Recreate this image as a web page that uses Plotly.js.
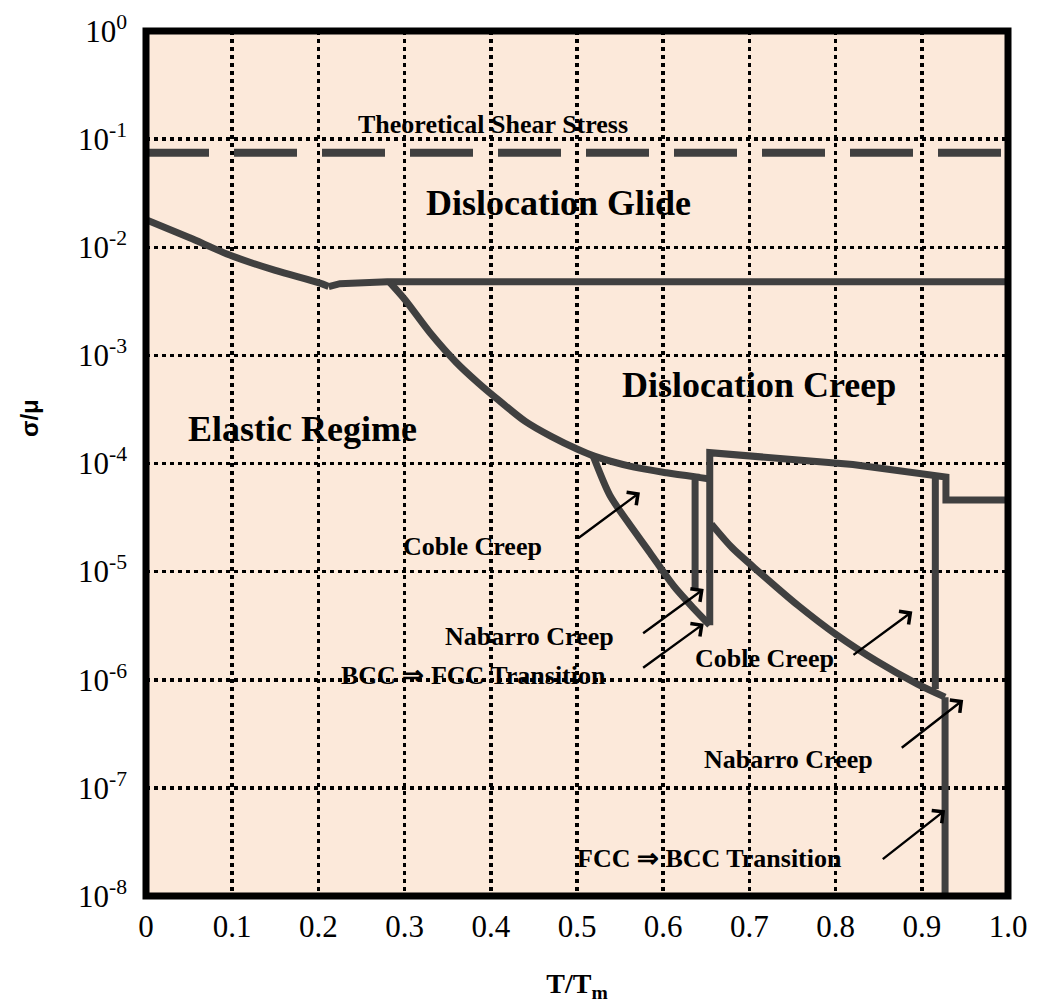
<!DOCTYPE html>
<html>
<head>
<meta charset="utf-8">
<script src="https://cdn.plot.ly/plotly-3.0.1.min.js"></script>
<style>
  html, body { margin: 0; padding: 0; background: #ffffff; }
  #chart { width: 1042px; height: 1003px; }
</style>
</head>
<body>
<div id="chart"></div>
<script>
// Deformation-mechanism map: homologous temperature T/Tm against normalised stress σ/μ

// Theoretical shear stress (dashed)
const theoryT = [0, 1.0];
const theoryStress = [7.5e-2, 7.5e-2];

// Elastic / dislocation-glide boundary at low temperature
const elasticGlideT = [0, 0.05, 0.1, 0.15, 0.2, 0.212];
const elasticGlideStress = [1.8e-2, 1.23e-2, 8.3e-3, 6.1e-3, 4.7e-3, 4.33e-3];

// Upper limit of dislocation creep (glide boundary)
const glideT = [0.212, 0.225, 0.28, 1.0];
const glideStress = [4.33e-3, 4.6e-3, 4.8e-3, 4.8e-3];

// Elastic / dislocation creep boundary (BCC)
const creepBccT = [0.283, 0.30, 0.33, 0.36, 0.385, 0.41, 0.44, 0.47, 0.50, 0.52, 0.565, 0.604, 0.643, 0.654];
const creepBccStress = [4.7e-3, 3.3e-3, 1.6e-3, 8.6e-4, 5.6e-4, 3.8e-4, 2.45e-4, 1.78e-4, 1.36e-4, 1.17e-4, 9.3e-5, 8.2e-5, 7.4e-5, 7.2e-5];

// Coble creep boundary (BCC)
const cobleBccT = [0.519, 0.538, 0.558, 0.585, 0.612, 0.635, 0.654];
const cobleBccStress = [1.16e-4, 5.1e-5, 2.95e-5, 1.48e-5, 7.4e-6, 4.6e-6, 3.2e-6];

// Nabarro creep boundary (BCC)
const nabarroBccT = [0.637, 0.637];
const nabarroBccStress = [7.1e-5, 6.9e-6];

// BCC ⇒ FCC transition and dislocation creep boundary (FCC)
const creepFccT = [0.654, 0.654, 0.82, 0.928, 0.928, 1.0];
const creepFccStress = [3.2e-6, 1.26e-4, 9.8e-5, 7.5e-5, 4.6e-5, 4.6e-5];

// Nabarro creep boundary (FCC)
const nabarroFccT = [0.9157, 0.9157];
const nabarroFccStress = [7.6e-5, 8.2e-7];

// Coble creep boundary (FCC) and FCC ⇒ BCC transition
const cobleFccT = [0.656, 0.68, 0.712, 0.756, 0.802, 0.848, 0.895, 0.927, 0.927];
const cobleFccStress = [2.75e-5, 1.66e-5, 9.8e-6, 4.9e-6, 2.57e-6, 1.48e-6, 9.1e-7, 6.9e-7, 1e-8];

// Axis ticks
const xTickVals = [0, 0.1, 0.2, 0.3, 0.4, 0.5, 0.6, 0.7, 0.8, 0.9, 1.0];
const xTickText = ['0', '0.1', '0.2', '0.3', '0.4', '0.5', '0.6', '0.7', '0.8', '0.9', '1.0'];
const yTickVals = [1, 1e-1, 1e-2, 1e-3, 1e-4, 1e-5, 1e-6, 1e-7, 1e-8];
const yTickText = ['10<sup>0</sup>', '10<sup>-1</sup>', '10<sup>-2</sup>', '10<sup>-3</sup>',
                   '10<sup>-4</sup>', '10<sup>-5</sup>', '10<sup>-6</sup>', '10<sup>-7</sup>', '10<sup>-8</sup>'];

// Region and mechanism labels
const labelText = ['Theoretical Shear Stress', 'Dislocation Glide', 'Dislocation Creep', 'Elastic Regime',
                   'Coble Creep', 'Nabarro Creep', 'BCC \u21D2 FCC Transition',
                   'Coble Creep', 'Nabarro Creep', 'FCC \u21D2 BCC Transition'];
const labelT = [0.4026, 0.478, 0.711, 0.181, 0.379, 0.445, 0.380, 0.717, 0.745, 0.654];
const labelStress = [1.36e-1, 2.55e-2, 5.3e-4, 2.1e-4, 1.7e-5, 2.5e-6, 1.1e-6, 1.58e-6, 1.82e-7, 2.2e-8];
const labelSize = [26, 36, 36, 36, 26, 26, 26, 26, 26, 26];

// Pointer arrows: tail (label side) to head (boundary)
const arrowTailT = [0.500, 0.575, 0.575, 0.819, 0.875, 0.853];
const arrowTailStress = [2.0e-5, 2.63e-6, 1.26e-6, 1.66e-6, 2.29e-7, 2.14e-8];
const arrowHeadT = [0.573, 0.647, 0.647, 0.889, 0.948, 0.927];
const arrowHeadStress = [5.4e-5, 6.9e-6, 3.3e-6, 4.27e-6, 6.5e-7, 6.2e-8];

const lineColor = '#404040';
const lineWidth = 7;

function boundary(x, y, smooth) {
  return {
    x: x, y: y, type: 'scatter', mode: 'lines', hoverinfo: 'skip', showlegend: false,
    line: { color: lineColor, width: lineWidth, shape: smooth ? 'spline' : 'linear', smoothing: 0.8 }
  };
}

const traces = [
  {
    x: theoryT, y: theoryStress, type: 'scatter', mode: 'lines', hoverinfo: 'skip', showlegend: false,
    line: { color: lineColor, width: 8, dash: '63px,25px' }
  },
  boundary(elasticGlideT, elasticGlideStress, true),
  boundary(glideT, glideStress, false),
  boundary(creepBccT, creepBccStress, true),
  boundary(cobleBccT, cobleBccStress, true),
  boundary(nabarroBccT, nabarroBccStress, false),
  boundary(creepFccT, creepFccStress, false),
  boundary(nabarroFccT, nabarroFccStress, false),
  boundary(cobleFccT.slice(0, 8), cobleFccStress.slice(0, 8), true),
  boundary(cobleFccT.slice(7), cobleFccStress.slice(7), false)
];

const serif = 'Liberation Serif, Times New Roman, serif';
const annotations = [];
labelText.forEach(function (t, i) {
  annotations.push({
    x: labelT[i], y: Math.log10(labelStress[i]), xref: 'x', yref: 'y',
    text: t, showarrow: false, xanchor: 'center', yanchor: 'middle',
    font: { family: serif, size: labelSize[i], color: '#000000', weight: 'bold' }
  });
});
arrowHeadT.forEach(function (hx, i) {
  annotations.push({
    x: hx, y: Math.log10(arrowHeadStress[i]), xref: 'x', yref: 'y',
    ax: arrowTailT[i], ay: Math.log10(arrowTailStress[i]), axref: 'x', ayref: 'y',
    text: '', showarrow: true, arrowhead: 4, arrowsize: 1.3, arrowwidth: 2.4,
    arrowcolor: '#000000', standoff: 0, startstandoff: 0
  });
});
// Vertical axis title
annotations.push({
  x: -0.1357, y: 0.5526, xref: 'paper', yref: 'paper', showarrow: false,
  text: '\u03C3/\u03BC', textangle: -90, xanchor: 'center', yanchor: 'middle',
  font: { family: 'Liberation Sans, Arial, sans-serif', size: 24, color: '#000000', weight: 'bold' }
});

const layout = {
  width: 1042, height: 1003,
  margin: { l: 146, r: 34, t: 31, b: 107, pad: 0 },
  paper_bgcolor: '#ffffff',
  plot_bgcolor: '#FCE9DA',
  showlegend: false,
  xaxis: {
    range: [0, 1], autorange: false, automargin: false,
    tickvals: xTickVals, ticktext: xTickText, ticks: '', ticklabelstandoff: 9,
    showgrid: true, gridcolor: '#000000', gridwidth: 3.5, griddash: '4px,4px',
    zeroline: false, showline: false,
    tickfont: { family: serif, size: 31, color: '#000000' },
    title: { text: 'T/T<sub>m</sub>', standoff: 34,
             font: { family: serif, size: 28, color: '#000000', weight: 'bold' } }
  },
  yaxis: {
    type: 'log', range: [-8, 0], autorange: false, automargin: false,
    tickvals: yTickVals, ticktext: yTickText, ticks: '', ticklabelstandoff: 18,
    showgrid: true, gridcolor: '#000000', gridwidth: 3.5, griddash: '4px,4px',
    zeroline: false, showline: false,
    tickfont: { family: serif, size: 31, color: '#000000' }
  },
  shapes: [{
    type: 'rect', xref: 'paper', yref: 'paper', x0: 0, x1: 1, y0: 0, y1: 1,
    line: { color: '#000000', width: 7 }, fillcolor: 'rgba(0,0,0,0)', layer: 'above'
  }],
  annotations: annotations
};

Plotly.newPlot('chart', traces, layout, { staticPlot: true, displayModeBar: false });
</script>
</body>
</html>
